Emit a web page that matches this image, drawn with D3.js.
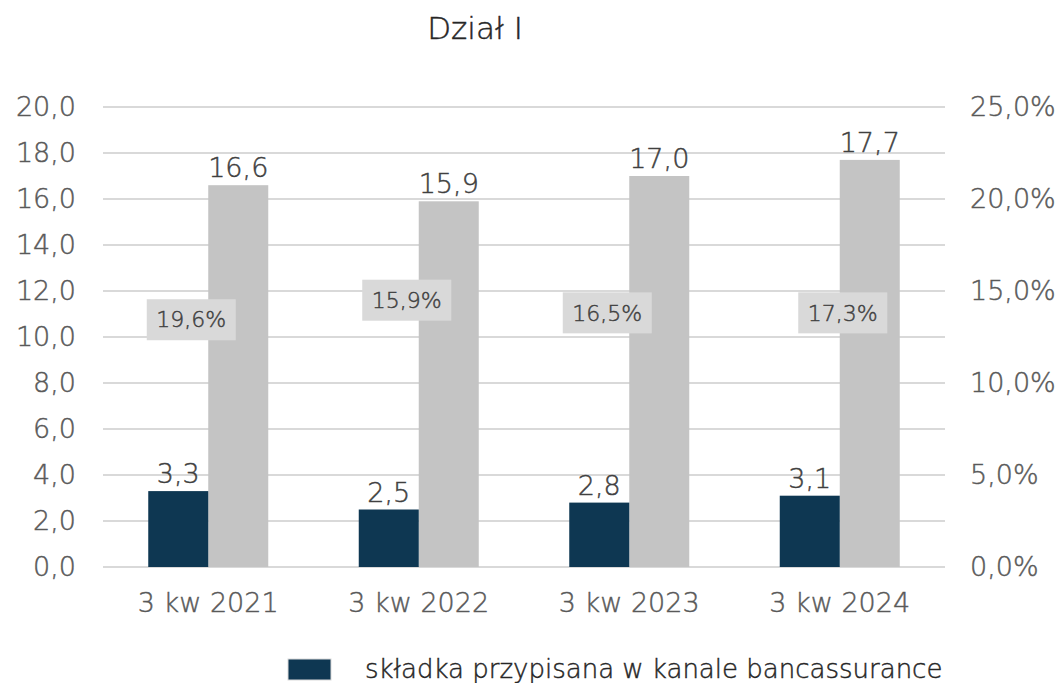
<!DOCTYPE html>
<html>
<head>
<meta charset="utf-8">
<script src="https://cdn.jsdelivr.net/npm/d3@7"></script>
<style>
  html, body { margin: 0; padding: 0; background: #fff; }
  svg { display: block; }
  text { font-family: "DejaVu Sans", sans-serif; font-weight: 200; stroke-width: 0.45px; paint-order: stroke; }
</style>
</head>
<body>
<svg id="chart" width="1063" height="683"></svg>
<script>
// ---- data ----
const categories = ["3 kw 2021", "3 kw 2022", "3 kw 2023", "3 kw 2024"];
const bancassurance = [3.3, 2.5, 2.8, 3.1];
const totalPremium = [16.6, 15.9, 17.0, 17.7];
const sharePct = [19.6, 15.9, 16.5, 17.3];
const leftTicks = [0, 2, 4, 6, 8, 10, 12, 14, 16, 18, 20];
const rightTicks = [0, 5, 10, 15, 20, 25];
const title = "Dział I";
const legendLabel = "składka przypisana w kanale bancassurance";

// ---- layout (manual label placement, not data) ----
const pctLabelLevel = [10.75, 11.6, 11.05, 11.05]; // in left-axis units
const pctLabelDx = [-17, -12, -22, 3];              // px from category centre

const FONT = "DejaVu Sans, sans-serif";
const svg = d3.select("#chart");
const plot = { left: 103, right: 945, top: 107, bottom: 567 };

const x = d3.scaleBand().domain(categories).range([plot.left, plot.right]);
const y = d3.scaleLinear().domain([0, 20]).range([plot.bottom, plot.top]);
const y2 = d3.scaleLinear().domain([0, 25]).range([plot.bottom, plot.top]);
const fmt1 = v => d3.format(".1f")(v).replace(".", ",");
const barW = 60;

// title
svg.append("text").attr("x", 475).attr("y", 28).attr("dy", "0.35em")
  .attr("text-anchor", "middle").attr("font-size", 31).attr("fill", "#262626").attr("stroke", "#262626")
  .text(title);

// gridlines
svg.append("g").selectAll("line").data(leftTicks).join("line")
  .attr("x1", plot.left).attr("x2", plot.right)
  .attr("y1", d => y(d)).attr("y2", d => y(d))
  .attr("stroke", "#d9d9d9").attr("stroke-width", 2);

// left axis
const gl = svg.append("g").attr("transform", `translate(76,0)`)
  .call(d3.axisLeft(y).tickValues(leftTicks).tickSize(0).tickPadding(0).tickFormat(fmt1));
gl.select(".domain").remove();
gl.selectAll("text").attr("font-size", 27).attr("fill", "#595959").attr("stroke", "#595959").attr("font-family", FONT);

// right axis
const gr = svg.append("g").attr("transform", `translate(970,0)`)
  .call(d3.axisRight(y2).tickValues(rightTicks).tickSize(0).tickPadding(0).tickFormat(v => fmt1(v) + "%"));
gr.select(".domain").remove();
gr.selectAll("text").attr("font-size", 27).attr("fill", "#595959").attr("stroke", "#595959").attr("font-family", FONT);

// x axis labels
const gx = svg.append("g").attr("transform", `translate(0,${plot.bottom})`)
  .call(d3.axisBottom(x).tickSize(0).tickPadding(26));
gx.select(".domain").remove();
gx.selectAll("text").attr("font-size", 27).attr("fill", "#595959").attr("stroke", "#595959").attr("font-family", FONT);

const cx = c => x(c) + x.bandwidth() / 2;

// gray bars
svg.append("g").selectAll("rect").data(totalPremium).join("rect")
  .attr("x", (d, i) => cx(categories[i]))
  .attr("width", barW)
  .attr("y", d => y(d)).attr("height", d => y(0) - y(d))
  .attr("fill", "#c4c4c4");

// navy bars
svg.append("g").selectAll("rect").data(bancassurance).join("rect")
  .attr("x", (d, i) => cx(categories[i]) - barW)
  .attr("width", barW)
  .attr("y", d => y(d)).attr("height", d => y(0) - y(d))
  .attr("fill", "#0e3752");

// value labels
svg.append("g").selectAll("text").data(totalPremium).join("text")
  .attr("x", (d, i) => cx(categories[i]) + barW / 2)
  .attr("y", d => y(d) - 8)
  .attr("text-anchor", "middle").attr("font-size", 27).attr("fill", "#404040").attr("stroke", "#404040")
  .text(fmt1);
svg.append("g").selectAll("text").data(bancassurance).join("text")
  .attr("x", (d, i) => cx(categories[i]) - barW / 2)
  .attr("y", d => y(d) - 8)
  .attr("text-anchor", "middle").attr("font-size", 27).attr("fill", "#404040").attr("stroke", "#404040")
  .text(fmt1);

// percentage labels with boxes
const pg = svg.append("g").selectAll("g").data(sharePct).join("g")
  .attr("transform", (d, i) => `translate(${cx(categories[i]) + pctLabelDx[i]},${y(pctLabelLevel[i])})`);
pg.append("rect").attr("x", -44.5).attr("y", -20.5).attr("width", 89).attr("height", 41)
  .attr("fill", "#d9d9d9");
pg.append("text").attr("text-anchor", "middle").attr("dy", "0.35em")
  .attr("font-size", 22).attr("fill", "#404040").attr("stroke", "#404040")
  .text(d => fmt1(d) + "%");

// legend
const lg = svg.append("g");
lg.append("rect").attr("x", 288).attr("y", 659).attr("width", 43).attr("height", 21)
  .attr("fill", "#0e3752").attr("stroke", "#d9d9d9").attr("stroke-width", 1);
lg.append("text").attr("x", 365).attr("y", 669).attr("dy", "0.35em")
  .attr("font-size", 26).attr("fill", "#262626").attr("stroke", "#262626").text(legendLabel);
</script>
</body>
</html>
